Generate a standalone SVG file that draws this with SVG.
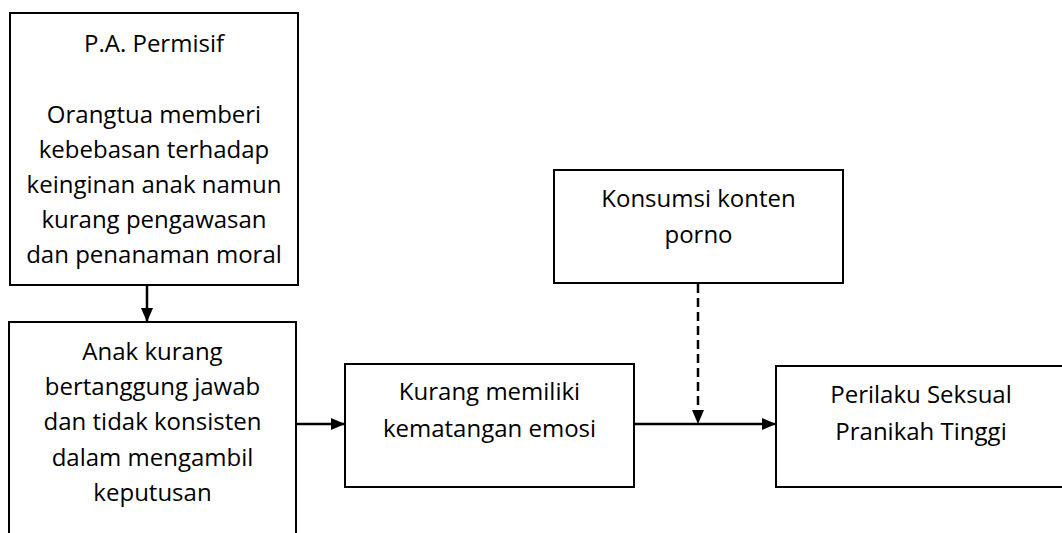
<svg xmlns="http://www.w3.org/2000/svg" width="1062" height="533" viewBox="0 0 1062 533">
<style>
.box{fill:#fff;stroke:#000;stroke-width:2}
.t{font-family:"Open Sans","Liberation Sans",sans-serif;font-size:24px;fill:#000;text-anchor:middle;font-variant-ligatures:none}
.c{stroke:#000;stroke-width:2.5;fill:none}
.d{stroke-dasharray:9,5}
</style>
<defs>
<marker id="ah" viewBox="0 0 14 12" refX="14" refY="6" markerWidth="14" markerHeight="12" markerUnits="userSpaceOnUse" orient="auto">
<path d="M0,0 L14,6 L0,12 z" fill="#000"/>
</marker>
</defs>
<rect width="1062" height="533" fill="#fff"/>
<g id="n1">
<rect class="box" x="10" y="13" width="288" height="272"/>
<text class="t" x="154" y="52">P.A. Permisif</text>
<text class="t" x="154" y="123">Orangtua memberi</text>
<text class="t" x="154" y="158">kebebasan terhadap</text>
<text class="t" x="154" y="193">keinginan anak namun</text>
<text class="t" x="154" y="228">kurang pengawasan</text>
<text class="t" x="154" y="263">dan penanaman moral</text>
</g>
<g id="n2">
<rect class="box" x="9" y="322" width="287" height="230"/>
<text class="t" x="152.5" y="360">Anak kurang</text>
<text class="t" x="152.5" y="395">bertanggung jawab</text>
<text class="t" x="152.5" y="430">dan tidak konsisten</text>
<text class="t" x="152.5" y="466">dalam mengambil</text>
<text class="t" x="152.5" y="501">keputusan</text>
</g>
<g id="n3">
<rect class="box" x="345" y="364" width="289" height="123"/>
<text class="t" x="489.5" y="400">Kurang memiliki</text>
<text class="t" x="489.5" y="437">kematangan emosi</text>
</g>
<g id="n4">
<rect class="box" x="554" y="170" width="289" height="113"/>
<text class="t" x="698.5" y="207">Konsumsi konten</text>
<text class="t" x="698.5" y="243">porno</text>
</g>
<g id="n5">
<rect class="box" x="776" y="366" width="300" height="121"/>
<text class="t" x="921" y="403">Perilaku Seksual</text>
<text class="t" x="921" y="440">Pranikah Tinggi</text>
</g>
<g id="connectors">
<line class="c" x1="147" y1="285" x2="147" y2="322" marker-end="url(#ah)"/>
<line class="c" x1="296" y1="424" x2="345" y2="424" marker-end="url(#ah)"/>
<line class="c" x1="634" y1="424" x2="776" y2="424" marker-end="url(#ah)"/>
<line class="c d" x1="698" y1="284" x2="698" y2="424" marker-end="url(#ah)"/>
</g>
</svg>
